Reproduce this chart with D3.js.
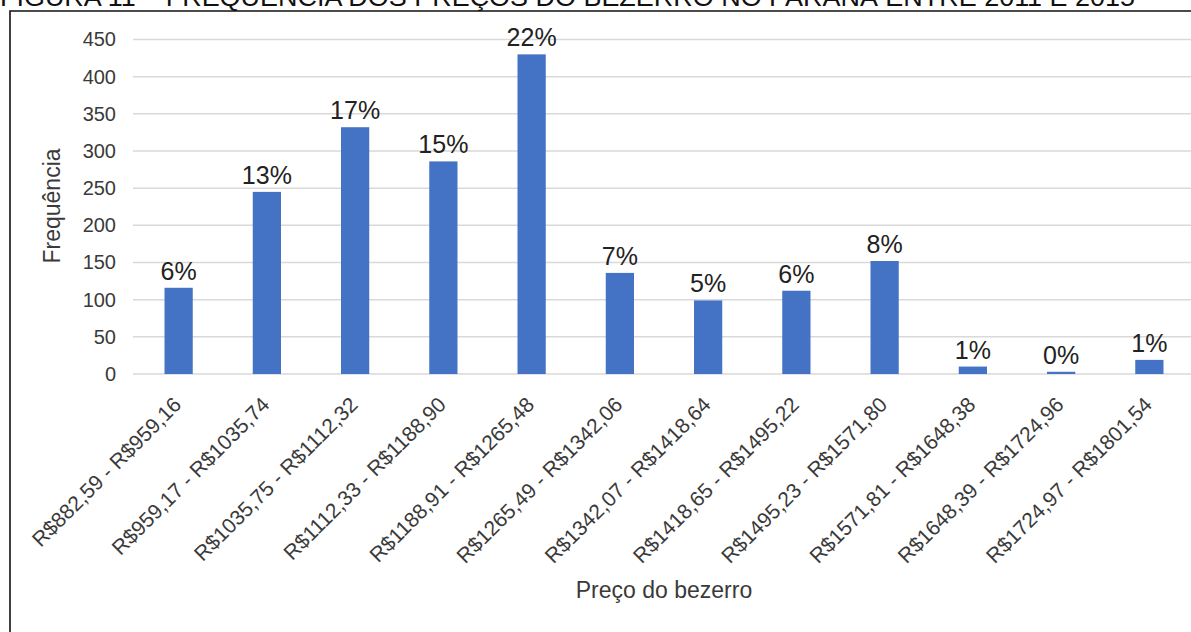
<!DOCTYPE html>
<html>
<head>
<meta charset="utf-8">
<script src="https://cdn.jsdelivr.net/npm/d3@7"></script>
<style>
  html, body { margin: 0; padding: 0; background: #fff; }
  svg { display: block; font-family: "Liberation Sans", Arial, sans-serif; }
</style>
</head>
<body>
<svg id="chart" width="1191" height="632"></svg>
<script>
// Price classes of the calf (R$) and how many observations fall in each
const categories = [
  "R$882,59 - R$959,16",
  "R$959,17 - R$1035,74",
  "R$1035,75 - R$1112,32",
  "R$1112,33 - R$1188,90",
  "R$1188,91 - R$1265,48",
  "R$1265,49 - R$1342,06",
  "R$1342,07 - R$1418,64",
  "R$1418,65 - R$1495,22",
  "R$1495,23 - R$1571,80",
  "R$1571,81 - R$1648,38",
  "R$1648,39 - R$1724,96",
  "R$1724,97 - R$1801,54"
];
const frequencies = [116, 245, 332, 286, 430, 136, 99, 112, 152, 10, 3, 19];
const yTicks = [0, 50, 100, 150, 200, 250, 300, 350, 400, 450];

const titleText = "FIGURA 11 – FREQUÊNCIA DOS PREÇOS DO BEZERRO NO PARANÁ ENTRE 2011 E 2015";
const yTitle = "Frequência";
const xTitle = "Preço do bezerro";

const svg = d3.select("#chart");
const total = d3.sum(frequencies);

// Figure caption, partly above the page edge
svg.append("text")
  .attr("x", 0)
  .attr("y", 6)
  .attr("font-size", 26)
  .attr("fill", "#111")
  .attr("textLength", 1135)
  .attr("lengthAdjust", "spacingAndGlyphs")
  .text(titleText);

// Outer frame (top and left edges)
svg.append("path")
  .attr("d", "M10,632 L10,11 L1191,11")
  .attr("fill", "none")
  .attr("stroke", "#111")
  .attr("stroke-width", 1.6);

const x = d3.scaleBand()
  .domain(categories)
  .range([134.5, 1193.5])
  .paddingInner(0.68)
  .paddingOuter(0.34);

const y = d3.scaleLinear()
  .domain([0, 450])
  .range([374, 39.5]);

// Horizontal gridlines
svg.append("g")
  .selectAll("line")
  .data(yTicks)
  .join("line")
  .attr("x1", 133)
  .attr("x2", 1191)
  .attr("y1", d => y(d))
  .attr("y2", d => y(d))
  .attr("stroke", "#d9d9d9")
  .attr("stroke-width", 1.5);

// Y axis tick labels
const yAxis = d3.axisLeft(y).tickValues(yTicks).tickSize(0).tickPadding(0);
const gy = svg.append("g").attr("transform", "translate(116,0)").call(yAxis);
gy.select(".domain").remove();
gy.selectAll("text")
  .attr("font-size", 20)
  .attr("font-family", "'Liberation Sans', Arial, sans-serif")
  .attr("fill", "#3a3a3a");

// Bars
svg.append("g")
  .selectAll("rect")
  .data(frequencies)
  .join("rect")
  .attr("x", (d, i) => x(categories[i]))
  .attr("width", x.bandwidth())
  .attr("y", d => y(d))
  .attr("height", d => y(0) - y(d))
  .attr("fill", "#4472C4");

// Percentage labels above bars
svg.append("g")
  .selectAll("text")
  .data(frequencies)
  .join("text")
  .attr("x", (d, i) => x(categories[i]) + x.bandwidth() / 2)
  .attr("y", d => y(d) - 8)
  .attr("text-anchor", "middle")
  .attr("font-size", 25)
  .attr("fill", "#222")
  .text(d => Math.round(d / total * 100) + "%");

// X axis category labels, rotated
const xAxis = d3.axisBottom(x).tickSize(0).tickPadding(0);
const gx = svg.append("g").attr("transform", "translate(0,374)").call(xAxis);
gx.select(".domain").remove();
gx.selectAll(".tick text")
  .attr("font-size", 21)
  .attr("font-family", "'Liberation Sans', Arial, sans-serif")
  .attr("fill", "#3a3a3a")
  .attr("text-anchor", "end")
  .attr("dy", null)
  .attr("y", 0)
  .attr("transform", "translate(4,32) rotate(-45)");

// Axis titles
svg.append("text")
  .attr("transform", "translate(60,206) rotate(-90)")
  .attr("text-anchor", "middle")
  .attr("font-size", 23)
  .attr("fill", "#3a3a3a")
  .text(yTitle);

svg.append("text")
  .attr("x", 664)
  .attr("y", 598)
  .attr("text-anchor", "middle")
  .attr("font-size", 23)
  .attr("fill", "#3a3a3a")
  .text(xTitle);
</script>
</body>
</html>
